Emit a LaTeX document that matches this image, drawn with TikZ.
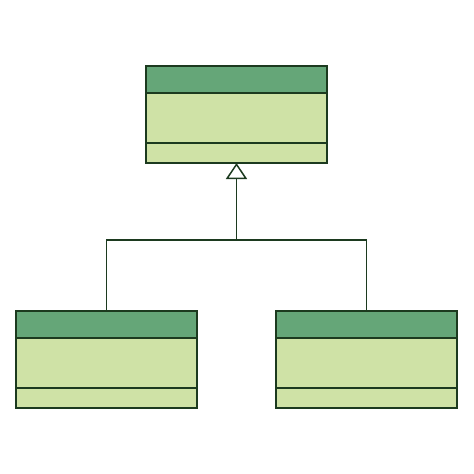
\documentclass[tikz,border=0pt]{standalone}
\usetikzlibrary{arrows.meta}
\definecolor{hdr}{HTML}{65A678}
\definecolor{bdy}{HTML}{CFE2A6}
\definecolor{ink}{HTML}{1C3A1F}
\begin{document}
\begin{tikzpicture}[x=1pt,y=-1pt,
  part/.style={draw=ink,line width=1.5pt,minimum width=181pt,inner sep=0pt,outer sep=0pt,anchor=north},
  hpart/.style={part,fill=hdr,minimum height=27pt},
  bpart/.style={part,fill=bdy,minimum height=50pt},
  fpart/.style={part,fill=bdy,minimum height=20pt},
  link/.style={draw=ink,line width=1.5pt},
  inherit/.style={link,-{Triangle[open,length=16pt,width=21pt,fill=white]}}]
\useasboundingbox (0,0) rectangle (474,474);
% top class
\node[bpart] (Tb) at (236.5,93) {};
\node[fpart] (Tf) at (236.5,143) {};
\node[hpart] (Th) at (236.5,66) {};
% left class
\node[bpart] (Lb) at (106.5,338) {};
\node[fpart] (Lf) at (106.5,388) {};
\node[hpart] (Lh) at (106.5,311) {};
% right class
\node[bpart] (Rb) at (366.5,338) {};
\node[fpart] (Rf) at (366.5,388) {};
\node[hpart] (Rh) at (366.5,311) {};
\coordinate (j) at (236.5,240);
\draw[link] (Lh.north) |- (j) -| (Rh.north);
\draw[inherit] (j) -- (Tf.south);
\end{tikzpicture}
\end{document}
